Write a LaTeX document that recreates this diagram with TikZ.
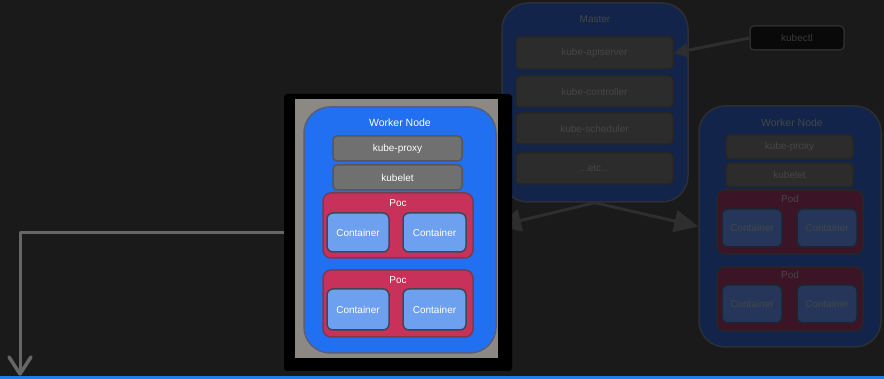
\documentclass[tikz,border=0pt]{standalone}
\usepackage{fontspec}
\setmainfont{Liberation Sans}
\usetikzlibrary{arrows.meta}

% bright palette
\definecolor{bgdark}{HTML}{1A1A1A}
\definecolor{wnblue}{HTML}{2170F2}
\definecolor{wnedge}{HTML}{55607A}
\definecolor{podred}{HTML}{C8325A}
\definecolor{podedge}{HTML}{7A3A50}
\definecolor{ctblue}{HTML}{6EA0F0}
\definecolor{ctedge}{HTML}{3E4658}
\definecolor{svgray}{HTML}{707070}
\definecolor{svedge}{HTML}{575757}
\definecolor{framegray}{HTML}{8C8884}
% dimmed palette
\definecolor{dwn}{HTML}{12244A}
\definecolor{dwnedge}{HTML}{2C2F36}
\definecolor{dpod}{HTML}{3B1526}
\definecolor{dct}{HTML}{25365A}
\definecolor{dctedge}{HTML}{1E2430}
\definecolor{dsv}{HTML}{2C2C2C}
\definecolor{dsvedge}{HTML}{262626}
\definecolor{dtext}{HTML}{464646}
\definecolor{darrow}{HTML}{2E2E2E}
\definecolor{lgray}{HTML}{666666}
\definecolor{baseblue}{HTML}{1F7FE8}

\tikzset{
  box/.style={draw, line width=1.5pt, rounded corners=4pt, inner sep=0pt,
    font=\fontsize{10}{12}\selectfont},
  worker/.style={box, fill=wnblue, draw=wnedge, rounded corners=26pt},
  pod/.style={box, fill=podred, draw=podedge, rounded corners=8pt},
  ctr/.style={box, fill=ctblue, draw=ctedge, rounded corners=6pt, text=white},
  svc/.style={box, fill=svgray, draw=svedge, text=white},
  lbl/.style={inner sep=0pt, font=\fontsize{10}{12}\selectfont, text=white},
  title/.style={lbl, font=\fontsize{10.5}{12}\selectfont},
  dworker/.style={box, fill=dwn, draw=dwnedge, rounded corners=26pt},
  dpodbox/.style={box, fill=dpod, draw=dsvedge, rounded corners=8pt},
  dctr/.style={box, fill=dct, draw=dctedge, rounded corners=6pt, text=dtext},
  dsvc/.style={box, fill=dsv, draw=dsvedge, text=dtext},
  dlbl/.style={lbl, text=dtext},
  dtitle/.style={title, text=dtext},
}

\begin{document}
\begin{tikzpicture}[x=1pt, y=-1pt]
  % canvas
  \fill[bgdark] (0,0) rectangle (884,379);
  \useasboundingbox (0,0) rectangle (884,379);

  % ---- control plane (dimmed) ----
  \node[dworker, minimum width=186pt, minimum height=199pt] (master) at (595,102.5) {};
  \node[dlbl] (masterlbl) at (595,19) {Master};
  \node[dsvc, minimum width=157pt, minimum height=32pt] (api) at (594.5,53) {kube-apiserver};
  \node[dsvc, minimum width=157pt, minimum height=31pt] (ctrl) at (594.5,91.5) {kube-controller};
  \node[dsvc, minimum width=157pt, minimum height=31pt] (sched) at (594.5,128.5) {kube-scheduler};
  \node[dsvc, minimum width=157pt, minimum height=31pt] (etc) at (594.5,168.5) {...etc...};

  \node[box, fill=black!65!bgdark, draw=dsv, minimum width=94pt, minimum height=24pt,
        text=black!78, rounded corners=4pt] (kubectl) at (797,38) {kubectl};
  \draw[darrow, line width=3pt, -{Triangle[length=14pt,width=14pt]}]
    (kubectl.west) -- (api.east);

  % ---- second worker (dimmed) ----
  \node[dworker, minimum width=182pt, minimum height=241pt] (rw) at (790,226.5) {};
  \node[dtitle] (rwlbl) at (792,123) {Worker Node};
  \node[dsvc, minimum width=127pt, minimum height=24pt] (rproxy) at (789.5,147) {kube-proxy};
  \node[dsvc, minimum width=127pt, minimum height=24pt] (rlet) at (789.5,175) {kubelet};
  \node[dpodbox, minimum width=146pt, minimum height=64pt] (rpa) at (790,222) {};
  \node[dlbl] (rpalbl) at (790,199) {Pod};
  \node[dctr, minimum width=60pt, minimum height=38pt] (rca) at (752,228) {Container};
  \node[dctr, minimum width=60pt, minimum height=38pt] (rcb) at (827,228) {Container};
  \node[dpodbox, minimum width=146pt, minimum height=64pt] (rpb) at (790,299) {};
  \node[dlbl] (rpblbl) at (790,275) {Pod};
  \node[dctr, minimum width=60pt, minimum height=38pt] (rcc) at (752,304) {Container};
  \node[dctr, minimum width=60pt, minimum height=38pt] (rcd) at (827,304) {Container};

  % master fans out to both workers
  \coordinate (lw) at (497,226);
  \draw[darrow, line width=3pt, -{Triangle[length=24pt,width=22pt]}]
    (master.south) -- (lw);
  \draw[darrow, line width=3pt, -{Triangle[length=24pt,width=22pt]}]
    (master.south) -- (rw.west);

  % ---- highlighted worker ----
  \node[fill=black, rounded corners=3pt, minimum width=228pt, minimum height=277pt,
        inner sep=0pt] (frame) at (398,232.5) {};
  \fill[framegray] (295,99) rectangle (498,358);
  \node[worker, minimum width=192pt, minimum height=246pt] (bw) at (400,230) {};
  \node[title] (bwlbl) at (400,123) {Worker Node};
  \node[svc, minimum width=129pt, minimum height=25pt] (bproxy) at (397.5,148.5) {kube-proxy};
  \node[svc, minimum width=129pt, minimum height=25pt] (blet) at (397.5,177.5) {kubelet};
  \node[pod, minimum width=150pt, minimum height=65pt] (bpa) at (398,225.5) {};
  \node[lbl] (bpalbl) at (398,203) {Poc};
  \node[ctr, minimum width=62pt, minimum height=39pt] (bca) at (358,232.5) {Container};
  \node[ctr, minimum width=63pt, minimum height=39pt] (bcb) at (434.5,232.5) {Container};
  \node[pod, minimum width=150pt, minimum height=67pt] (bpb) at (398,303.5) {};
  \node[lbl] (bpblbl) at (398,280) {Poc};
  \node[ctr, minimum width=62pt, minimum height=41pt] (bcc) at (358,309.5) {Container};
  \node[ctr, minimum width=63pt, minimum height=41pt] (bcd) at (434.5,309.5) {Container};

  % outgoing connector to the left, ending in an open chevron
  \coordinate (down) at (20,374);
  \draw[lgray, line width=3pt, line join=round]
    (frame.west) -| (down);
  \draw[lgray, line width=3.5pt, line cap=round, line join=round]
    ([shift={(-11,-17)}]down) -- (down) -- ([shift={(11,-17)}]down);

  % base strip
  \fill[baseblue] (0,376.5) rectangle (884,379);
\end{tikzpicture}
\end{document}
